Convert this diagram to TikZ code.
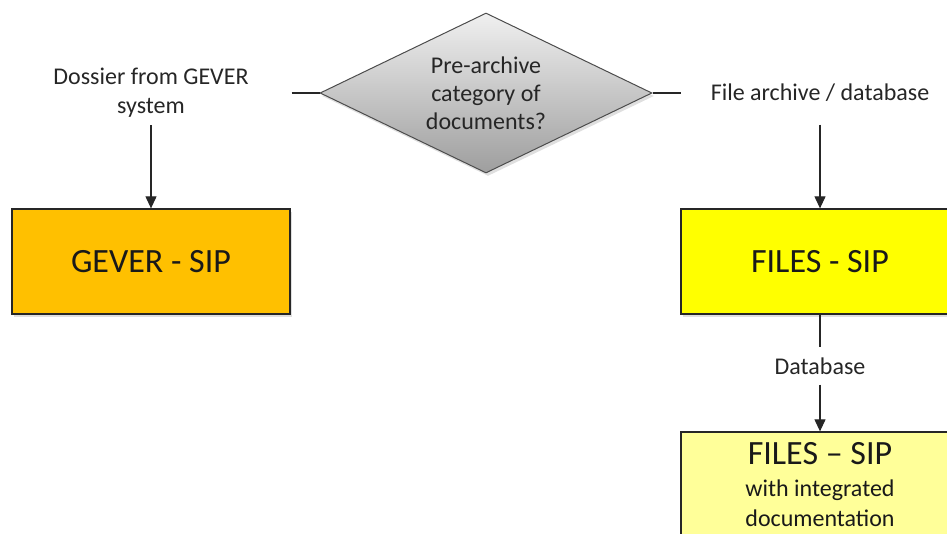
\documentclass[tikz,border=0pt]{standalone}
\usepackage{fontspec}
\setmainfont{Carlito}
\usepackage{tikz}
\usetikzlibrary{positioning}
\usetikzlibrary{shapes.geometric}
\usetikzlibrary{arrows.meta}
\usetikzlibrary{shadows}

\definecolor{geverorange}{HTML}{FFC000}
\definecolor{filesyellow}{HTML}{FFFF00}
\definecolor{docyellow}{HTML}{FFFF99}

\begin{document}
\begin{tikzpicture}[x=1pt, y=-1pt,
    textlabel/.style={font=\fontsize{24}{29}\selectfont, text=black!85, inner sep=7.5pt, align=center},
    sipbox/.style={draw=black!85, line width=1.3pt, minimum width=278pt, minimum height=105pt,
        inner sep=0pt, align=center, text=black!90, font=\fontsize{24}{30}\selectfont,
        drop shadow={shadow xshift=2pt, shadow yshift=-3pt, opacity=0.25}},
    decision/.style={diamond, aspect=2.07, draw=black!70, line width=1pt, top color=black!6, bottom color=black!38,
        minimum width=332pt, minimum height=160pt, inner sep=0pt, align=center, text=black!85,
        font=\fontsize{24}{28}\selectfont,
        drop shadow={shadow xshift=2pt, shadow yshift=-3pt, opacity=0.25}},
    flow/.style={-{Triangle[length=12pt,width=11pt]}, line width=1.1pt, draw=black!85},
    link/.style={line width=1.1pt, draw=black!85}]

    \useasboundingbox (0,0) rectangle (947,533);
    \clip (0,0) rectangle (947,533);

    % question
    \node[decision] (cat) at (486,93) {Pre-archive\\category of\\documents?};
    \coordinate[left=28pt of cat.west] (catleft);
    \coordinate[right=28pt of cat.east] (catright);

    % the two answers
    \node[textlabel] (dossier) at (151,93) {Dossier from GEVER\\system};
    \node[textlabel] (archive) at (820,93) {File archive / database};

    % packages
    \node[sipbox, fill=geverorange, font=\fontsize{34}{40}\selectfont] (geversip) at (151,261.5) {GEVER - SIP};
    \node[sipbox, fill=filesyellow, font=\fontsize{34}{40}\selectfont] (filessip) at (820,261.5) {FILES - SIP};
    \node[textlabel, inner sep=10pt] (db) at (820,366) {Database};
    \node[sipbox, fill=docyellow] (docsip) at (820,484.5)
        {{\fontsize{34}{40}\selectfont FILES -- SIP}\\[2pt]with integrated\\documentation};

    \draw[link] (catleft) -- (cat.west);
    \draw[link] (cat.east) -- (catright);
    \draw[flow] (dossier.south) -- (geversip.north);
    \draw[flow, shorten <=15pt] (archive.south) -- (filessip.north);
    \draw[link] (filessip.south) -- (db.north);
    \draw[flow] (db.south) -- (docsip.north);

\end{tikzpicture}
\end{document}
